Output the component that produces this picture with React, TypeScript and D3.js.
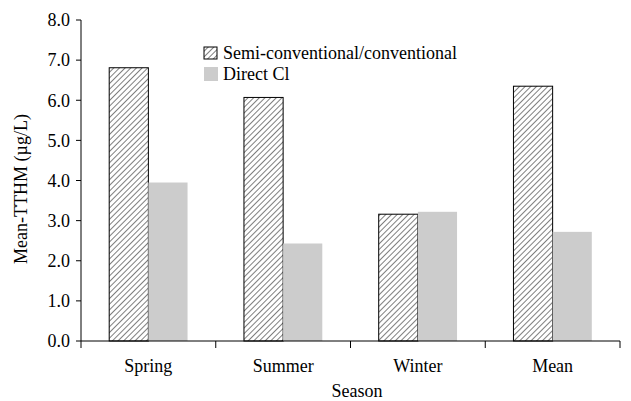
import React from "react";
import * as d3 from "d3";

const categories = ["Spring", "Summer", "Winter", "Mean"];
const seriesNames = ["Semi-conventional/conventional", "Direct Cl"];
const semiConventional = [6.81, 6.07, 3.16, 6.35];
const directCl = [3.95, 2.43, 3.22, 2.72];
const yTicks = [0, 1, 2, 3, 4, 5, 6, 7, 8];

const W = 631;
const H = 401;
const margin = { left: 81, right: 10, top: 20, bottom: 60 };
const font = "'Liberation Serif', 'Times New Roman', serif";
const fs = 18;

export default function App() {
  const x = d3.scaleBand<string>().domain(categories).range([margin.left, 620]).paddingInner(0).paddingOuter(0);
  const y = d3.scaleLinear().domain([0, 8]).range([341, 20]);
  const sub = d3.scaleBand<number>().domain([0, 1]).range([0, x.bandwidth()]).paddingOuter(0.72).paddingInner(0);
  const seriesValues = [semiConventional, directCl];

  return (
    <svg width={W} height={H} style={{ position: "absolute", left: 0, top: 0, background: "#fff" }}>
      <defs>
        <pattern id="hatch" width="4" height="4" patternUnits="userSpaceOnUse" patternTransform="rotate(45)">
          <rect width="4" height="4" fill="#fff" />
          <line x1="0" y1="0" x2="0" y2="4" stroke="#000" strokeWidth="1" />
        </pattern>
      </defs>
      {categories.map((c, i) =>
        seriesValues.map((vals, s) => {
          const bx = (x(c) as number) + (sub(s) as number);
          const by = y(vals[i]);
          return s === 0 ? (
            <rect key={c + s} x={bx} y={by} width={sub.bandwidth()} height={y(0) - by} fill="url(#hatch)" stroke="#000" strokeWidth={1} />
          ) : (
            <rect key={c + s} x={bx} y={by} width={sub.bandwidth()} height={y(0) - by} fill="#cccccc" />
          );
        })
      )}
      <line x1={margin.left} x2={margin.left} y1={y(8)} y2={y(0)} stroke="#000" strokeWidth={1} />
      {yTicks.map((t) => (
        <g key={t}>
          <line x1={margin.left - 5} x2={margin.left} y1={y(t)} y2={y(t)} stroke="#000" />
          <text x={margin.left - 11} y={y(t)} dy="0.35em" textAnchor="end" fontFamily={font} fontSize={fs}>
            {t.toFixed(1)}
          </text>
        </g>
      ))}
      <line x1={margin.left} x2={620} y1={y(0)} y2={y(0)} stroke="#000" strokeWidth={1} />
      {categories.map((c) => (
        <g key={c}>
          <line x1={x(c) as number} x2={x(c) as number} y1={y(0)} y2={y(0) + 7} stroke="#000" />
          <text x={(x(c) as number) + x.bandwidth() / 2} y={372} textAnchor="middle" fontFamily={font} fontSize={fs}>
            {c}
          </text>
        </g>
      ))}
      <line x1={620} x2={620} y1={y(0)} y2={y(0) + 7} stroke="#000" />
      <text x={357} y={397} textAnchor="middle" fontFamily={font} fontSize={fs}>
        Season
      </text>
      <text transform={`translate(27, 189) rotate(-90)`} textAnchor="middle" fontFamily={font} fontSize={fs}>
        Mean-TTHM (µg/L)
      </text>
      <rect x={204} y={47} width={13} height={12} fill="url(#hatch)" stroke="#000" strokeWidth={1} />
      <text x={223} y={59} fontFamily={font} fontSize={fs}>{seriesNames[0]}</text>
      <rect x={204} y={67} width={14} height={14} fill="#cccccc" />
      <text x={223} y={80} fontFamily={font} fontSize={fs}>{seriesNames[1]}</text>
    </svg>
  );
}
